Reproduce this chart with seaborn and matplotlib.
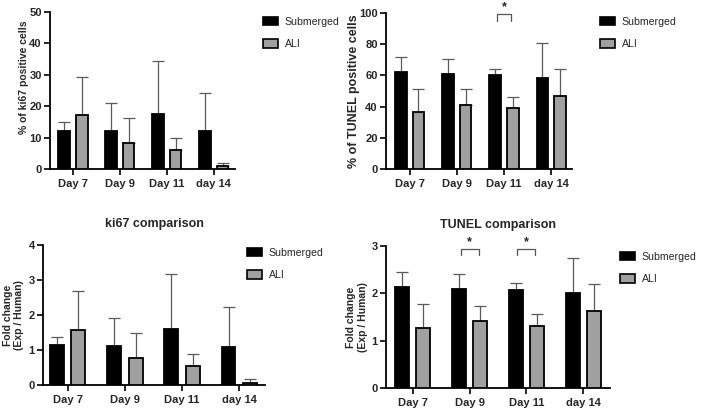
import numpy as np
import pandas as pd
import matplotlib
matplotlib.use("Agg")
import matplotlib.pyplot as plt
import seaborn as sns
from matplotlib.patches import Patch
from matplotlib.container import BarContainer

sns.set_theme(style="ticks")
plt.rcParams['font.family'] = ['Liberation Sans', 'DejaVu Sans']

days = ["Day 7", "Day 9", "Day 11", "day 14"]
groups = ["Submerged", "ALI"]

ki67_pct_sub = [12.2, 12.2, 17.6, 12.0]
ki67_pct_sub_err = [2.7, 8.8, 16.9, 12.2]
ki67_pct_ali = [17.2, 8.4, 5.9, 1.0]
ki67_pct_ali_err = [12.1, 7.8, 3.9, 1.0]

tunel_pct_sub = [62.3, 61.2, 60.4, 58.2]
tunel_pct_sub_err = [9.2, 9.0, 3.8, 22.3]
tunel_pct_ali = [36.8, 41.3, 38.8, 47.1]
tunel_pct_ali_err = [14.8, 9.9, 7.2, 16.9]

ki67_fc_sub = [1.13, 1.12, 1.61, 1.10]
ki67_fc_sub_err = [0.23, 0.80, 1.57, 1.12]
ki67_fc_ali = [1.58, 0.77, 0.55, 0.07]
ki67_fc_ali_err = [1.12, 0.71, 0.35, 0.09]

tunel_fc_sub = [2.13, 2.09, 2.07, 2.00]
tunel_fc_sub_err = [0.32, 0.31, 0.14, 0.75]
tunel_fc_ali = [1.27, 1.41, 1.32, 1.62]
tunel_fc_ali_err = [0.50, 0.33, 0.25, 0.57]

colors = {"Submerged": "black", "ALI": "#A0A0A0"}
W, H = 709, 409

fig = plt.figure(figsize=(7.09, 4.09), dpi=100)


def ax_px(l, r, t, b):
    return fig.add_axes([l / W, 1 - b / H, (r - l) / W, (b - t) / H])


def panel(ax, sub, sub_err, ali, ali_err, ylim, yticks, xlim, ylabel, title=None,
          stars=(), ylabel_size=7.5, ylabel_pos=None):
    df = pd.DataFrame({
        "day": days * 2,
        "group": [groups[0]] * 4 + [groups[1]] * 4,
        "value": list(sub) + list(ali),
    })
    sns.barplot(data=df, x="day", y="value", hue="group", order=days,
                hue_order=groups, palette=colors, edgecolor="black",
                linewidth=1.3, width=0.75, gap=0.35, errorbar=None, ax=ax,
                legend=False, zorder=3)
    errs = [sub_err, ali_err]
    bar_conts = [c for c in ax.containers if isinstance(c, BarContainer)]
    centers = []
    for ci, cont in enumerate(bar_conts):
        cs = []
        for p, e in zip(cont.patches, errs[ci]):
            x = p.get_x() + p.get_width() / 2
            h = p.get_height()
            ax.errorbar([x], [h], yerr=[[0], [e]], fmt="none", ecolor="#5a5a5a",
                        elinewidth=0.9, capsize=4, capthick=0.9, zorder=2)
            cs.append(x)
        centers.append(cs)
    ax.set_ylim(*ylim)
    ax.set_yticks(yticks)
    ax.set_xlim(*xlim)
    ax.set_xlabel("")
    ax.set_ylabel(ylabel, fontsize=ylabel_size, fontweight="bold", labelpad=3)
    if ylabel_pos is not None:
        ax.yaxis.set_label_coords(*ylabel_pos)
    sns.despine(ax=ax)
    for s in ["left", "bottom"]:
        ax.spines[s].set_linewidth(1.3)
        ax.spines[s].set_color("black")
    ax.tick_params(axis="both", length=4, width=1.2, color="black",
                   labelsize=8, pad=2)
    ax.tick_params(axis="x", pad=3)
    for lab in ax.get_xticklabels() + ax.get_yticklabels():
        lab.set_fontweight("bold")
    if title:
        ax.set_title(title, fontsize=9, fontweight="bold", pad=13)
    for (i, top, leg, star_y) in stars:
        x0 = centers[0][i] + 0.03
        x1 = centers[1][i] - 0.03
        ax.plot([x0, x0, x1, x1], [leg, top, top, leg], color="#555555",
                lw=0.9, clip_on=False)
        ax.text((x0 + x1) / 2, star_y, "*", ha="center", va="center",
                fontsize=9, fontweight="bold", clip_on=False)
    return ax


def legend(x, y):
    handles = [Patch(facecolor=colors[g], edgecolor="black", linewidth=1.2)
               for g in groups]
    fig.legend(handles, groups, loc="upper left",
               bbox_to_anchor=(x / W, 1 - y / H), frameon=False,
               prop={"size": 7.6},
               handlelength=1.45, handleheight=0.8, handletextpad=0.6,
               labelspacing=1.15, borderpad=0, borderaxespad=0)


ax1 = ax_px(50, 235, 12, 169)
panel(ax1, ki67_pct_sub, ki67_pct_sub_err, ki67_pct_ali, ki67_pct_ali_err,
      (0, 50), [0, 10, 20, 30, 40, 50], (-0.49, 3.45), "% of ki67 positive cells",
      ylabel_size=7.5, ylabel_pos=(-21 / 185, (169 - 77) / 157))
legend(263, 17)

ax2 = ax_px(386, 572, 13, 169)
panel(ax2, tunel_pct_sub, tunel_pct_sub_err, tunel_pct_ali, tunel_pct_ali_err,
      (0, 100), [0, 20, 40, 60, 80, 100], (-0.5, 3.44), "% of TUNEL positive cells",
      stars=[(2, 99.5, 95.0, 103.5)], ylabel_size=9,
      ylabel_pos=(-26 / 186, 0.5))
legend(600, 17)

ax3 = ax_px(43, 265, 245, 385)
panel(ax3, ki67_fc_sub, ki67_fc_sub_err, ki67_fc_ali, ki67_fc_ali_err,
      (0, 4), [0, 1, 2, 3, 4], (-0.43, 3.45), "Fold change\n(Exp / Human)",
      title="ki67 comparison")
legend(247, 248)

ax4 = ax_px(386, 610, 246, 388)
panel(ax4, tunel_fc_sub, tunel_fc_sub_err, tunel_fc_ali, tunel_fc_ali_err,
      (0, 3), [0, 1, 2, 3], (-0.47, 3.47), "Fold change\n(Exp / Human)",
      title="TUNEL comparison",
      stars=[(1, 2.94, 2.81, 3.08), (2, 2.94, 2.81, 3.08)],
      ylabel_pos=(-18 / 224, 0.5))
legend(620, 252)

fig.savefig("out.png", dpi=100)
